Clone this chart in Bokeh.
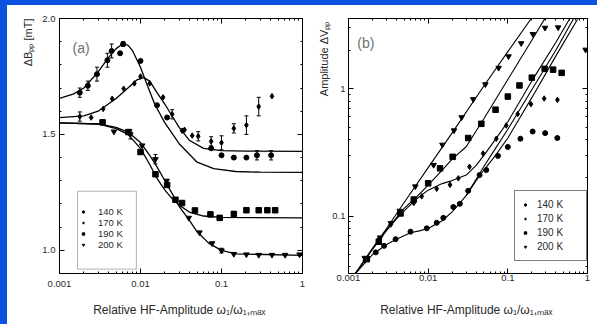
from bokeh.plotting import figure
from bokeh.models import (FixedTicker, CustomJSTickFormatter, LogAxis, LinearAxis, Legend,
                          LegendItem, Label, Whisker, TeeHead, ColumnDataSource, Range1d,
                          Title, Spacer, BoxAnnotation)
from bokeh.layouts import row, column
from bokeh.embed import file_html
from bokeh.resources import INLINE

FONT = "Liberation Sans"
TXT = "#2a2a2a"
BLUE = "#0b52e0"

# ---------------- Panel (a): linewidth ΔBpp ----------------
series = ["140 K", "170 K", "190 K", "200 K"]
markers = ["circle", "diamond", "square", "inverted_triangle"]

a_x_140 = [0.00178, 0.00224, 0.0029, 0.0039, 0.0044, 0.0056, 0.0061, 0.01, 0.016, 0.0213,
           0.0745, 0.1, 0.142, 0.203, 0.274, 0.41]
a_y_140 = [1.68, 1.71, 1.76, 1.82, 1.86, 1.85, 1.89, 1.817, 1.626, 1.573,
           1.44, 1.41, 1.40, 1.40, 1.41, 1.41]
a_e_140 = [0.02, 0.02, 0.03, 0.03, 0.03, 0, 0.01, 0, 0, 0, 0, 0, 0, 0, 0.02, 0.02]

a_x_170 = [0.00178, 0.00246, 0.00346, 0.00447, 0.0062, 0.0084, 0.01, 0.013, 0.019, 0.0246,
           0.0326, 0.035, 0.0435, 0.0516, 0.0745, 0.1, 0.142, 0.203, 0.288, 0.42]
a_y_170 = [1.577, 1.573, 1.61, 1.654, 1.697, 1.72, 1.75, 1.72, 1.66, 1.587,
           1.516, 1.52, 1.495, 1.492, 1.47, 1.464, 1.526, 1.54, 1.62, 1.665]
a_e_170 = [0.02, 0, 0, 0, 0, 0, 0, 0, 0, 0.02, 0, 0, 0, 0.02, 0.02, 0.03, 0.02, 0.04, 0.04, 0]

a_x_190 = [0.0034, 0.0071, 0.01, 0.0153, 0.0213, 0.027, 0.0326, 0.047, 0.073, 0.095,
           0.142, 0.203, 0.288, 0.368, 0.46]
a_y_190 = [1.552, 1.51, 1.424, 1.328, 1.282, 1.218, 1.204, 1.172, 1.155, 1.14,
           1.157, 1.173, 1.173, 1.173, 1.173]
a_e_190 = [0, 0, 0, 0, 0, 0, 0, 0, 0, 0.01, 0.01, 0, 0, 0, 0]

a_x_200 = [0.0047, 0.0075, 0.0105, 0.0153, 0.021, 0.0394, 0.0534, 0.0765, 0.1, 0.142,
           0.203, 0.288, 0.42, 0.61, 0.92]
a_y_200 = [1.512, 1.50, 1.452, 1.393, 1.30, 1.14, 1.077, 1.03, 0.999, 0.984,
           0.982, 0.98, 0.98, 0.98, 0.982]
a_e_200 = [0, 0.02, 0, 0.02, 0, 0, 0, 0, 0.01, 0, 0, 0, 0, 0, 0]

# fit curves
a_fx_140 = [0.001, 0.0015, 0.002, 0.003, 0.004, 0.005, 0.006, 0.007, 0.008, 0.01, 0.0125,
            0.015, 0.02, 0.03, 0.05, 0.08, 0.15, 0.3, 1.0]
a_fy_140 = [1.655, 1.675, 1.70, 1.77, 1.83, 1.87, 1.89, 1.885, 1.86, 1.79, 1.70,
            1.63, 1.55, 1.46, 1.38, 1.352, 1.34, 1.337, 1.336]
a_fx_170 = [0.001, 0.002, 0.003, 0.005, 0.007, 0.009, 0.011, 0.013, 0.016, 0.02, 0.025,
            0.03, 0.04, 0.06, 0.1, 0.2, 1.0]
a_fy_170 = [1.572, 1.58, 1.60, 1.655, 1.70, 1.735, 1.745, 1.73, 1.68, 1.63, 1.575,
            1.53, 1.475, 1.44, 1.43, 1.428, 1.427]
a_fx_190 = [0.001, 0.003, 0.005, 0.007, 0.01, 0.013, 0.016, 0.02, 0.025, 0.03, 0.04,
            0.06, 0.1, 1.0]
a_fy_190 = [1.55, 1.545, 1.525, 1.50, 1.44, 1.37, 1.31, 1.26, 1.22, 1.195, 1.165,
            1.148, 1.142, 1.14]
a_fx_200 = [0.001, 0.003, 0.005, 0.007, 0.01, 0.013, 0.016, 0.02, 0.025, 0.03, 0.04,
            0.05, 0.07, 0.1, 0.15, 1.0]
a_fy_200 = [1.55, 1.545, 1.53, 1.51, 1.465, 1.41, 1.36, 1.30, 1.24, 1.19, 1.13,
            1.08, 1.03, 1.0, 0.985, 0.978]

# ---------------- Panel (b): amplitude ΔVpp ----------------
b_x_140 = [0.0017, 0.0022, 0.0028, 0.0039, 0.006, 0.0096, 0.0128, 0.0155, 0.0207, 0.025,
           0.0318, 0.0442, 0.0536, 0.0752, 0.1, 0.144, 0.205, 0.294, 0.418]
b_y_140 = [0.046, 0.052, 0.0585, 0.066, 0.0756, 0.0803, 0.0887, 0.097, 0.118, 0.125,
           0.158, 0.21, 0.23, 0.297, 0.349, 0.405, 0.461, 0.448, 0.41]
b_x_170 = [0.0016, 0.0024, 0.0034, 0.0043, 0.0066, 0.0083, 0.0128, 0.0188, 0.0239, 0.033,
           0.0489, 0.0717, 0.0955, 0.133, 0.195, 0.286, 0.419]
b_y_170 = [0.045, 0.066, 0.086, 0.106, 0.127, 0.143, 0.164, 0.176, 0.198, 0.244,
           0.31, 0.405, 0.514, 0.632, 0.756, 0.836, 0.817]
b_x_190 = [0.0017, 0.0024, 0.0045, 0.0066, 0.01, 0.0141, 0.0203, 0.0318, 0.0465, 0.0701,
           0.1, 0.14, 0.2, 0.29, 0.37, 0.474]
b_y_190 = [0.046, 0.063, 0.105, 0.135, 0.181, 0.237, 0.292, 0.41, 0.53, 0.684,
           0.867, 1.06, 1.22, 1.43, 1.41, 1.33]
b_x_200 = [0.0016, 0.0025, 0.0034, 0.0044, 0.0069, 0.0117, 0.0151, 0.0211, 0.0263, 0.0368,
           0.0523, 0.0766, 0.102, 0.147, 0.206, 0.293, 0.428, 0.946]
b_y_200 = [0.047, 0.068, 0.088, 0.11, 0.171, 0.252, 0.363, 0.47, 0.596, 0.826,
           1.08, 1.455, 1.79, 2.27, 2.68, 3.0, 3.02, 2.02]

b_fx_140 = [0.0012, 0.0015, 0.002, 0.003, 0.004, 0.006, 0.008, 0.01, 0.015, 0.02, 0.03,
            0.04, 0.05, 0.07, 0.1, 0.2, 0.4, 0.75]
b_fy_140 = [0.035, 0.041, 0.05, 0.06, 0.066, 0.074, 0.077, 0.08, 0.092, 0.108, 0.145,
            0.19, 0.23, 0.30, 0.41, 0.85, 1.8, 3.5]
# second (upper) branch drawn for the 140 K data at high amplitude
b_fx_140b = [0.03, 0.04, 0.05, 0.07, 0.1, 0.2, 0.4, 0.67]
b_fy_140b = [0.145, 0.195, 0.245, 0.34, 0.48, 0.98, 2.0, 3.55]
b_fx_170 = [0.0012, 0.002, 0.003, 0.004, 0.005, 0.007, 0.01, 0.015, 0.02, 0.03, 0.04,
            0.05, 0.07, 0.1, 0.2, 0.4, 0.6]
b_fy_170 = [0.035, 0.055, 0.077, 0.095, 0.11, 0.135, 0.16, 0.18, 0.19, 0.21, 0.25,
            0.30, 0.40, 0.55, 1.15, 2.3, 3.55]
b_fx_190 = [0.0012, 0.002, 0.003, 0.005, 0.007, 0.01, 0.015, 0.02, 0.03, 0.05, 0.1,
            0.2, 0.3]
b_fy_190 = [0.035, 0.055, 0.078, 0.115, 0.14, 0.175, 0.23, 0.28, 0.35, 0.58, 1.18,
            2.4, 3.65]
b_fx_200 = [0.0012, 0.002, 0.003, 0.005, 0.01, 0.02, 0.05, 0.1, 0.2]
b_fy_200 = [0.035, 0.056, 0.08, 0.128, 0.24, 0.45, 1.05, 1.95, 3.6]

x_ticks = [0.001, 0.01, 0.1, 1]
x_minor = [m * d for d in (0.001, 0.01, 0.1) for m in range(2, 10)]
a_y_ticks = [1.0, 1.5, 2.0]
a_y_minor = [0.9, 1.1, 1.2, 1.3, 1.4, 1.6, 1.7, 1.8, 1.9]
b_y_ticks = [0.1, 1]
b_y_minor = [0.04, 0.05, 0.06, 0.07, 0.08, 0.09, 0.2, 0.3, 0.4, 0.5, 0.6, 0.7, 0.8, 0.9, 2, 3]

fmt = CustomJSTickFormatter(code="return String(tick);")
fmt_a = CustomJSTickFormatter(code="return tick.toFixed(1);")
fmt_none = CustomJSTickFormatter(code="return '';")


def style_axis(ax, ticks, minor, formatter):
    ax.ticker = FixedTicker(ticks=ticks, minor_ticks=minor)
    ax.formatter = formatter
    ax.axis_line_color = "black"
    ax.axis_line_width = 1
    ax.major_tick_in = 5
    ax.major_tick_out = 0
    ax.minor_tick_in = 2
    ax.minor_tick_out = 0
    ax.major_tick_line_color = "black"
    ax.minor_tick_line_color = "black"
    ax.major_label_text_font = FONT
    ax.major_label_text_color = TXT
    ax.major_label_text_font_size = "9.5px"


def make_panel(width, height, y_type, y_range, borders):
    p = figure(width=width, height=height, x_axis_type="log", y_axis_type=y_type,
               x_range=Range1d(0.001, 1), y_range=y_range, output_backend="svg",
               toolbar_location=None, min_border_left=borders[0], min_border_right=borders[1],
               min_border_top=borders[2], min_border_bottom=borders[3])
    p.grid.visible = False
    p.outline_line_color = "black"
    p.background_fill_color = "white"
    p.border_fill_color = "white"
    return p


ylabels = {"a": "\u0394B\u209a\u209a [mT]", "b": "Amplitude  \u0394V\u209a\u209a"}
panels = []
for key in ("a", "b"):
    if key == "a":
        p = make_panel(308, 319, "linear", Range1d(0.9, 2.0), (52, 13, 13, 47))
        yt, ym, yf = a_y_ticks, a_y_minor, fmt_a
        extra_y = LinearAxis()
    else:
        p = make_panel(282, 319, "log", Range1d(0.0355, 3.55), (31, 10, 10, 51))
        yt, ym, yf = b_y_ticks, b_y_minor, fmt
        extra_y = LogAxis()
    style_axis(p.xaxis[0], x_ticks, x_minor, fmt)
    style_axis(p.yaxis[0], yt, ym, yf)
    p.yaxis[0].major_label_standoff = 4 if key == "a" else 3
    p.xaxis[0].major_label_standoff = 7 if key == "a" else 1
    p.xaxis[0].axis_label = "Relative HF-Amplitude  \u03c9\u2081/\u03c9\u2081,\u2098\u2090\u2093"
    p.xaxis[0].axis_label_text_font = FONT
    p.xaxis[0].axis_label_text_font_style = "normal"
    p.xaxis[0].axis_label_text_font_size = "12px"
    p.xaxis[0].axis_label_text_color = TXT
    if key == "a":
        p.xaxis[0].axis_label_text_line_height = 0.8
        p.xaxis[0].axis_label_standoff = 13
    else:
        p.xaxis[0].axis_label_standoff = 19
    top = LogAxis()
    style_axis(top, x_ticks, x_minor, fmt_none)
    top.major_label_standoff = 0
    p.add_layout(top, "above")
    style_axis(extra_y, yt, ym, fmt_none)
    extra_y.major_label_standoff = 0
    p.add_layout(extra_y, "right")
    p.add_layout(Title(text=ylabels[key], align="right", text_font=FONT,
                       text_font_size="11px", text_font_style="normal", text_color=TXT,
                       standoff=11 if key == "a" else 0), "left")
    panels.append(p)

p1, p2 = panels

# ---- panel (a) content ----
a_data = [(a_x_140, a_y_140, a_e_140, a_fx_140, a_fy_140),
          (a_x_170, a_y_170, a_e_170, a_fx_170, a_fy_170),
          (a_x_190, a_y_190, a_e_190, a_fx_190, a_fy_190),
          (a_x_200, a_y_200, a_e_200, a_fx_200, a_fy_200)]

# legend frame of panel (a) (position given in axis units)
p1.add_layout(BoxAnnotation(left=0.00167, right=0.0089, bottom=0.919, top=1.255,
                            fill_color="white", fill_alpha=1, line_color="black",
                            line_width=1, level="overlay"))

items_a = []
for (xs, ys, es, fx, fy), name, mk in zip(a_data, series, markers):
    p1.line(fx, fy, line_color="black", line_width=1.3)
    bx = [x for x, e in zip(xs, es) if e > 0]
    up = [y + e for y, e in zip(ys, es) if e > 0]
    lo = [y - e for y, e in zip(ys, es) if e > 0]
    src = ColumnDataSource(dict(base=bx, upper=up, lower=lo))
    p1.add_layout(Whisker(source=src, base="base", upper="upper", lower="lower",
                          dimension="height", line_color="black", line_width=1,
                          upper_head=TeeHead(size=4, line_color="black"),
                          lower_head=TeeHead(size=4, line_color="black")))
    r = p1.scatter(xs, ys, marker=mk, size=5.5 if mk != "circle" else 5,
                   fill_color="black", line_color="black")
    items_a.append(LegendItem(label=name, renderers=[r]))
leg_a = Legend(items=items_a, location=(19, 21), border_line_alpha=0,
               background_fill_alpha=0, padding=2, spacing=0, glyph_width=6,
               glyph_height=11, label_height=11, label_width=31, label_standoff=12,
               label_text_font=FONT, label_text_font_size="9.5px", label_text_color=TXT,
               margin=0)
p1.add_layout(leg_a)

p1.add_layout(Label(x=0.00145, y=1.872, text="(a)", text_font=FONT, text_font_size="14px",
                    text_color="#707070", text_align="left", text_baseline="alphabetic"))

# ---- panel (b) content ----
b_data = [(b_x_140, b_y_140, b_fx_140, b_fy_140),
          (b_x_170, b_y_170, b_fx_170, b_fy_170),
          (b_x_190, b_y_190, b_fx_190, b_fy_190),
          (b_x_200, b_y_200, b_fx_200, b_fy_200)]
p2.line(b_fx_140b, b_fy_140b, line_color="black", line_width=1.1)
items_b = []
for (xs, ys, fx, fy), name, mk in zip(b_data, series, markers):
    p2.line(fx, fy, line_color="black", line_width=1.1)
    r = p2.scatter(xs, ys, marker=mk, size=5.5 if mk != "circle" else 5,
                   fill_color="black", line_color="black")
    items_b.append(LegendItem(label=name, renderers=[r]))
leg_b = Legend(items=items_b, location=(166, 12), border_line_color="black",
               border_line_width=1, background_fill_color="white", background_fill_alpha=1,
               padding=7, spacing=1, glyph_width=6, glyph_height=13, label_height=13,
               label_width=42, label_standoff=9, label_text_font=FONT,
               label_text_font_size="10px", label_text_color=TXT, margin=0)
p2.add_layout(leg_b)

p2.add_layout(Label(x=0.00129, y=2.27, text="(b)", text_font=FONT, text_font_size="14px",
                    text_color="#707070", text_align="left", text_baseline="alphabetic"))

top_band = Spacer(width=597, height=5, styles={"background-color": BLUE})
left_band = Spacer(width=7, height=319, styles={"background-color": BLUE})
layout = column(top_band, row(left_band, p1, p2))
open("out.html", "w").write(file_html(layout, INLINE))
